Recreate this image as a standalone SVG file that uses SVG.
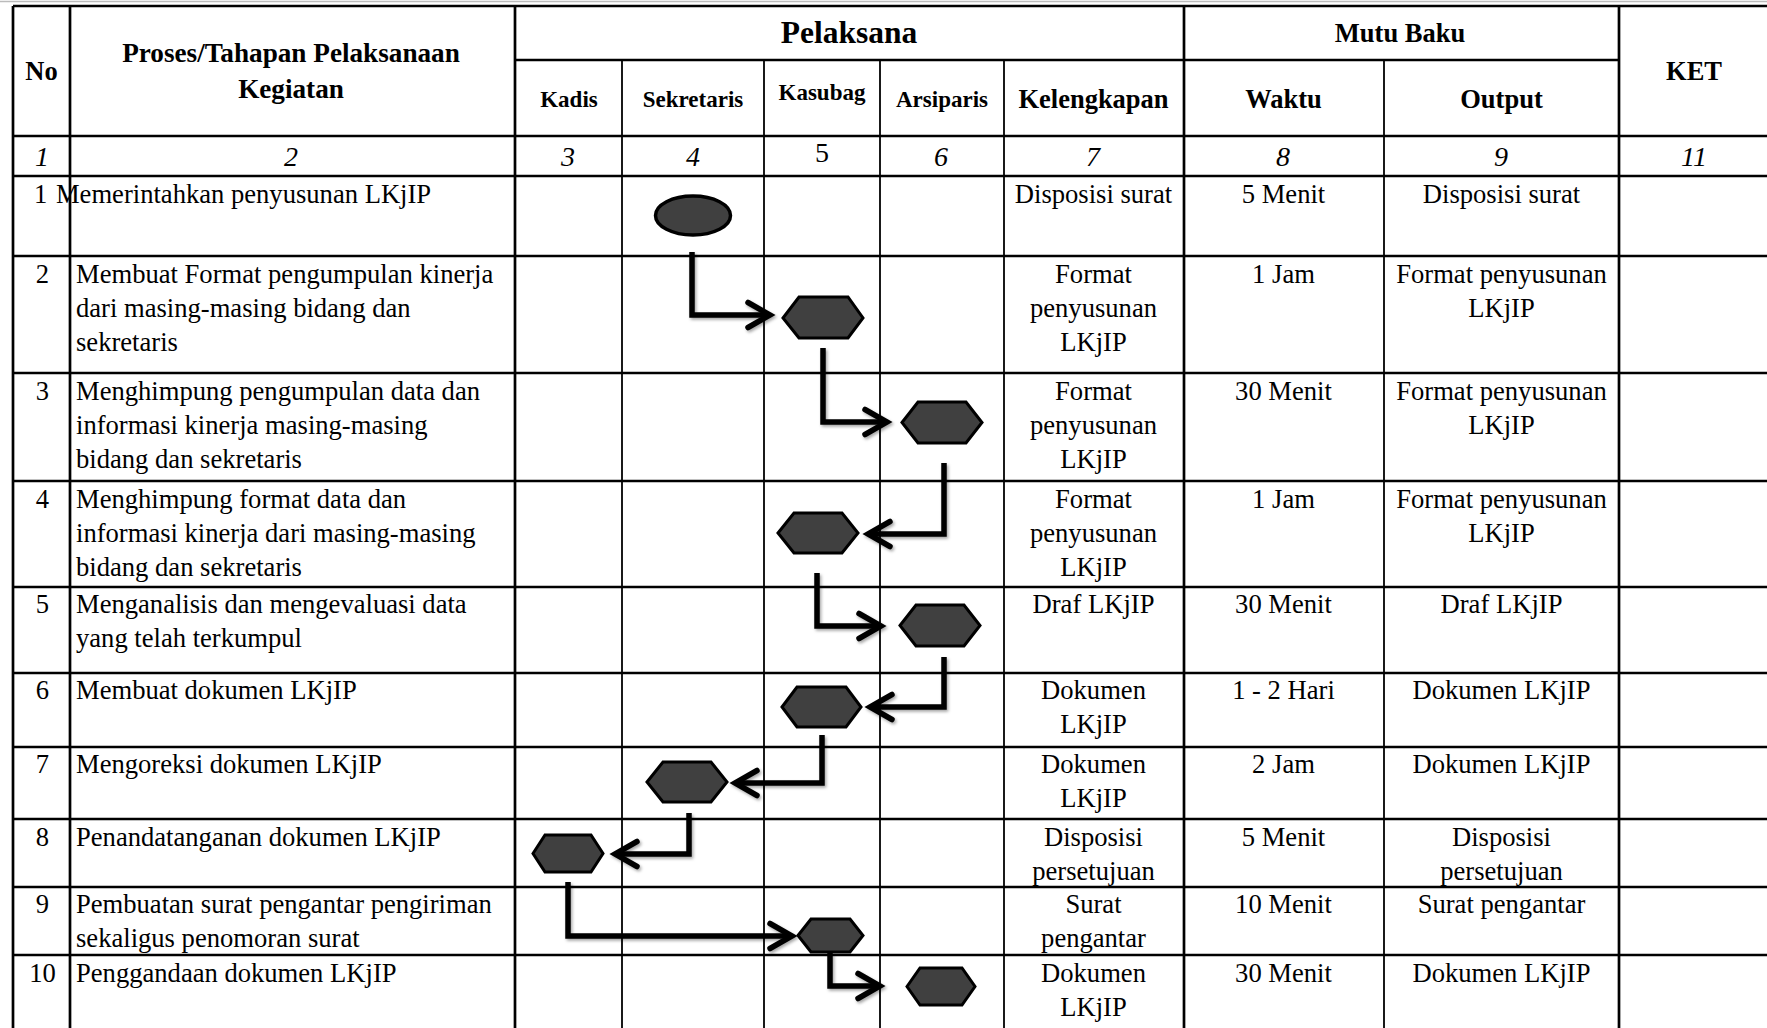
<svg xmlns="http://www.w3.org/2000/svg" width="1767" height="1028" viewBox="0 0 1767 1028">
<style>
text{font-family:"Liberation Serif","Times New Roman",serif;fill:#000}
.t{font-size:26.6px}
.c{text-anchor:middle}
.h{font-size:26.5px;font-weight:bold}
.hs{font-size:23px;font-weight:bold}
.n{font-size:28px;font-style:italic}
.gh{stroke:#000;stroke-width:2.5}
.gv{stroke:#000;stroke-width:2.7}
.gt{stroke:#000;stroke-width:1.8}
.shape{fill:#404040;stroke:#000;stroke-width:3;stroke-linejoin:miter}
.con{fill:none;stroke:#000;stroke-width:5.5;stroke-linejoin:miter}
</style>
<defs>
<filter id="sh" x="-20%" y="-20%" width="140%" height="140%">
<feDropShadow dx="1.5" dy="2" stdDeviation="1.5" flood-color="#000" flood-opacity="0.35"/>
</filter>
<marker id="arr" markerUnits="userSpaceOnUse" markerWidth="40" markerHeight="40" viewBox="-30 -20 40 40" refX="-3" refY="0" orient="auto">
<path d="M-22,-12.5 L0,0 L-22,12.5" fill="none" stroke="#000" stroke-width="5.5" stroke-linecap="round" stroke-linejoin="miter"/>
</marker>
</defs>
<rect width="1767" height="1028" fill="#fff"/>

<g id="grid">
<line x1="0" y1="1.5" x2="1767" y2="1.5" stroke="#bbb" stroke-width="1.5"/>
<line class="gh" x1="13" y1="6" x2="1767" y2="6"/>
<line class="gh" x1="515" y1="60" x2="1619" y2="60"/>
<line class="gh" x1="13" y1="136" x2="1767" y2="136"/>
<line class="gh" x1="13" y1="176" x2="1767" y2="176"/>
<line class="gh" x1="13" y1="256" x2="1767" y2="256"/>
<line class="gh" x1="13" y1="373" x2="1767" y2="373"/>
<line class="gh" x1="13" y1="481" x2="1767" y2="481"/>
<line class="gh" x1="13" y1="587" x2="1767" y2="587"/>
<line class="gh" x1="13" y1="673" x2="1767" y2="673"/>
<line class="gh" x1="13" y1="747" x2="1767" y2="747"/>
<line class="gh" x1="13" y1="819" x2="1767" y2="819"/>
<line class="gh" x1="13" y1="887" x2="1767" y2="887"/>
<line class="gh" x1="13" y1="955" x2="1767" y2="955"/>
<line class="gv" x1="13" y1="6" x2="13" y2="1028"/>
<line class="gv" x1="70" y1="6" x2="70" y2="1028"/>
<line class="gv" x1="515" y1="6" x2="515" y2="1028"/>
<line class="gt" x1="622" y1="60" x2="622" y2="1028"/>
<line class="gt" x1="764" y1="60" x2="764" y2="1028"/>
<line class="gt" x1="880" y1="60" x2="880" y2="1028"/>
<line class="gt" x1="1004" y1="60" x2="1004" y2="1028"/>
<line class="gv" x1="1184" y1="6" x2="1184" y2="1028"/>
<line class="gt" x1="1384" y1="60" x2="1384" y2="1028"/>
<line class="gv" x1="1619" y1="6" x2="1619" y2="1028"/>
</g>

<g id="header">
<text class="h c" x="41.5" y="80">No</text>
<text class="h c" x="291" y="62" style="font-size:27.2px">Proses/Tahapan Pelaksanaan</text>
<text class="h c" x="291" y="98" style="font-size:27.2px">Kegiatan</text>
<text class="h c" x="849" y="43" style="font-size:31.5px">Pelaksana</text>
<text class="h c" x="1400" y="42">Mutu Baku</text>
<text class="h c" x="1694" y="80">KET</text>
<text class="hs c" x="569" y="107">Kadis</text>
<text class="hs c" x="693" y="107">Sekretaris</text>
<text class="hs c" x="822" y="100">Kasubag</text>
<text class="hs c" x="942" y="107">Arsiparis</text>
<text class="h c" x="1093.5" y="108">Kelengkapan</text>
<text class="h c" x="1283.5" y="108">Waktu</text>
<text class="h c" x="1501.5" y="108">Output</text>
<text class="n c" x="42" y="166">1</text>
<text class="n c" x="291" y="166">2</text>
<text class="n c" x="568" y="166">3</text>
<text class="n c" x="693" y="166">4</text>
<text class="c" x="822" y="162" style="font-size:28px">5</text>
<text class="n c" x="941" y="166">6</text>
<text class="n c" x="1093" y="166">7</text>
<text class="n c" x="1283" y="166">8</text>
<text class="n c" x="1501" y="166">9</text>
<text class="n c" x="1694" y="166">11</text>
</g>

<g id="col-proses">
<text class="t" x="34" y="203">1 <tspan dx="2">Memerintahkan penyusunan LKjIP</tspan></text>
<text class="t c" x="42.5" y="283">2</text>
<text class="t" x="76" y="283">Membuat Format pengumpulan kinerja</text>
<text class="t" x="76" y="317">dari masing-masing bidang dan</text>
<text class="t" x="76" y="351">sekretaris</text>
<text class="t c" x="42.5" y="400">3</text>
<text class="t" x="76" y="400">Menghimpung pengumpulan data dan</text>
<text class="t" x="76" y="434">informasi kinerja masing-masing</text>
<text class="t" x="76" y="468">bidang dan sekretaris</text>
<text class="t c" x="42.5" y="508">4</text>
<text class="t" x="76" y="508">Menghimpung format data dan</text>
<text class="t" x="76" y="542">informasi kinerja dari masing-masing</text>
<text class="t" x="76" y="576">bidang dan sekretaris</text>
<text class="t c" x="42.5" y="613">5</text>
<text class="t" x="76" y="613">Menganalisis dan mengevaluasi data</text>
<text class="t" x="76" y="647">yang telah terkumpul</text>
<text class="t c" x="42.5" y="699">6</text>
<text class="t" x="76" y="699">Membuat dokumen LKjIP</text>
<text class="t c" x="42.5" y="773">7</text>
<text class="t" x="76" y="773">Mengoreksi dokumen LKjIP</text>
<text class="t c" x="42.5" y="846">8</text>
<text class="t" x="76" y="846">Penandatanganan dokumen LKjIP</text>
<text class="t c" x="42.5" y="913">9</text>
<text class="t" x="76" y="913">Pembuatan surat pengantar pengiriman</text>
<text class="t" x="76" y="947">sekaligus penomoran surat</text>
<text class="t c" x="42.5" y="982">10</text>
<text class="t" x="76" y="982">Penggandaan dokumen LKjIP</text>
</g>

<g id="col-kelengkapan">
<text class="t c" x="1093.5" y="203">Disposisi surat</text>
<text class="t c" x="1093.5" y="283">Format</text>
<text class="t c" x="1093.5" y="317">penyusunan</text>
<text class="t c" x="1093.5" y="351">LKjIP</text>
<text class="t c" x="1093.5" y="400">Format</text>
<text class="t c" x="1093.5" y="434">penyusunan</text>
<text class="t c" x="1093.5" y="468">LKjIP</text>
<text class="t c" x="1093.5" y="508">Format</text>
<text class="t c" x="1093.5" y="542">penyusunan</text>
<text class="t c" x="1093.5" y="576">LKjIP</text>
<text class="t c" x="1093.5" y="613">Draf LKjIP</text>
<text class="t c" x="1093.5" y="699">Dokumen</text>
<text class="t c" x="1093.5" y="733">LKjIP</text>
<text class="t c" x="1093.5" y="773">Dokumen</text>
<text class="t c" x="1093.5" y="807">LKjIP</text>
<text class="t c" x="1093.5" y="846">Disposisi</text>
<text class="t c" x="1093.5" y="880">persetujuan</text>
<text class="t c" x="1093.5" y="913">Surat</text>
<text class="t c" x="1093.5" y="947">pengantar</text>
<text class="t c" x="1093.5" y="982">Dokumen</text>
<text class="t c" x="1093.5" y="1016">LKjIP</text>
</g>

<g id="col-waktu">
<text class="t c" x="1283.5" y="203">5 Menit</text>
<text class="t c" x="1283.5" y="283">1 Jam</text>
<text class="t c" x="1283.5" y="400">30 Menit</text>
<text class="t c" x="1283.5" y="508">1 Jam</text>
<text class="t c" x="1283.5" y="613">30 Menit</text>
<text class="t c" x="1283.5" y="699">1 - 2 Hari</text>
<text class="t c" x="1283.5" y="773">2 Jam</text>
<text class="t c" x="1283.5" y="846">5 Menit</text>
<text class="t c" x="1283.5" y="913">10 Menit</text>
<text class="t c" x="1283.5" y="982">30 Menit</text>
</g>

<g id="col-output">
<text class="t c" x="1501.5" y="203">Disposisi surat</text>
<text class="t c" x="1501.5" y="283">Format penyusunan</text>
<text class="t c" x="1501.5" y="317">LKjIP</text>
<text class="t c" x="1501.5" y="400">Format penyusunan</text>
<text class="t c" x="1501.5" y="434">LKjIP</text>
<text class="t c" x="1501.5" y="508">Format penyusunan</text>
<text class="t c" x="1501.5" y="542">LKjIP</text>
<text class="t c" x="1501.5" y="613">Draf LKjIP</text>
<text class="t c" x="1501.5" y="699">Dokumen LKjIP</text>
<text class="t c" x="1501.5" y="773">Dokumen LKjIP</text>
<text class="t c" x="1501.5" y="846">Disposisi</text>
<text class="t c" x="1501.5" y="880">persetujuan</text>
<text class="t c" x="1501.5" y="913">Surat pengantar</text>
<text class="t c" x="1501.5" y="982">Dokumen LKjIP</text>
</g>

<g id="connectors" filter="url(#sh)">
<path class="con" d="M692,252 V315 H767" marker-end="url(#arr)"/>
<path class="con" d="M823,348 V422 H884" marker-end="url(#arr)"/>
<path class="con" d="M944,463 V534 H871" marker-end="url(#arr)"/>
<path class="con" d="M817,573 V626 H878" marker-end="url(#arr)"/>
<path class="con" d="M944,657 V707 H873" marker-end="url(#arr)"/>
<path class="con" d="M822,735 V783 H738" marker-end="url(#arr)"/>
<path class="con" d="M689,813 V854 H618" marker-end="url(#arr)"/>
<path class="con" d="M568,882 V936 H789" marker-end="url(#arr)"/>
<path class="con" d="M830,953 V986 H877" marker-end="url(#arr)"/>
</g>

<g id="n1"><ellipse class="shape" cx="693" cy="215.5" rx="37.5" ry="19.5" style="stroke-width:3.5"/></g>
<g id="n2"><polygon class="shape" points="783,318 799,297 848,297 863,318 848,338 799,338"/></g>
<g id="n3"><polygon class="shape" points="902,422.5 918,402 966,402 982,422.5 966,443 918,443"/></g>
<g id="n4"><polygon class="shape" points="778,533 794,513 842,513 858,533 842,553 794,553"/></g>
<g id="n5"><polygon class="shape" points="900,625.5 916,605 964,605 980,625.5 964,646 916,646"/></g>
<g id="n6"><polygon class="shape" points="782,707 797,687 846,687 861,707 846,727 797,727"/></g>
<g id="n7"><polygon class="shape" points="647,782 663,762 711,762 727,782 711,802 663,802"/></g>
<g id="n8"><polygon class="shape" points="533,853.5 545,835 591,835 603,853.5 591,872 545,872"/></g>
<g id="n9"><polygon class="shape" points="798,935.5 811,919 850,919 863,935.5 850,952 811,952"/></g>
<g id="n10"><polygon class="shape" points="907,986.5 920,968 962,968 975,986.5 962,1005 920,1005"/></g>
</svg>
